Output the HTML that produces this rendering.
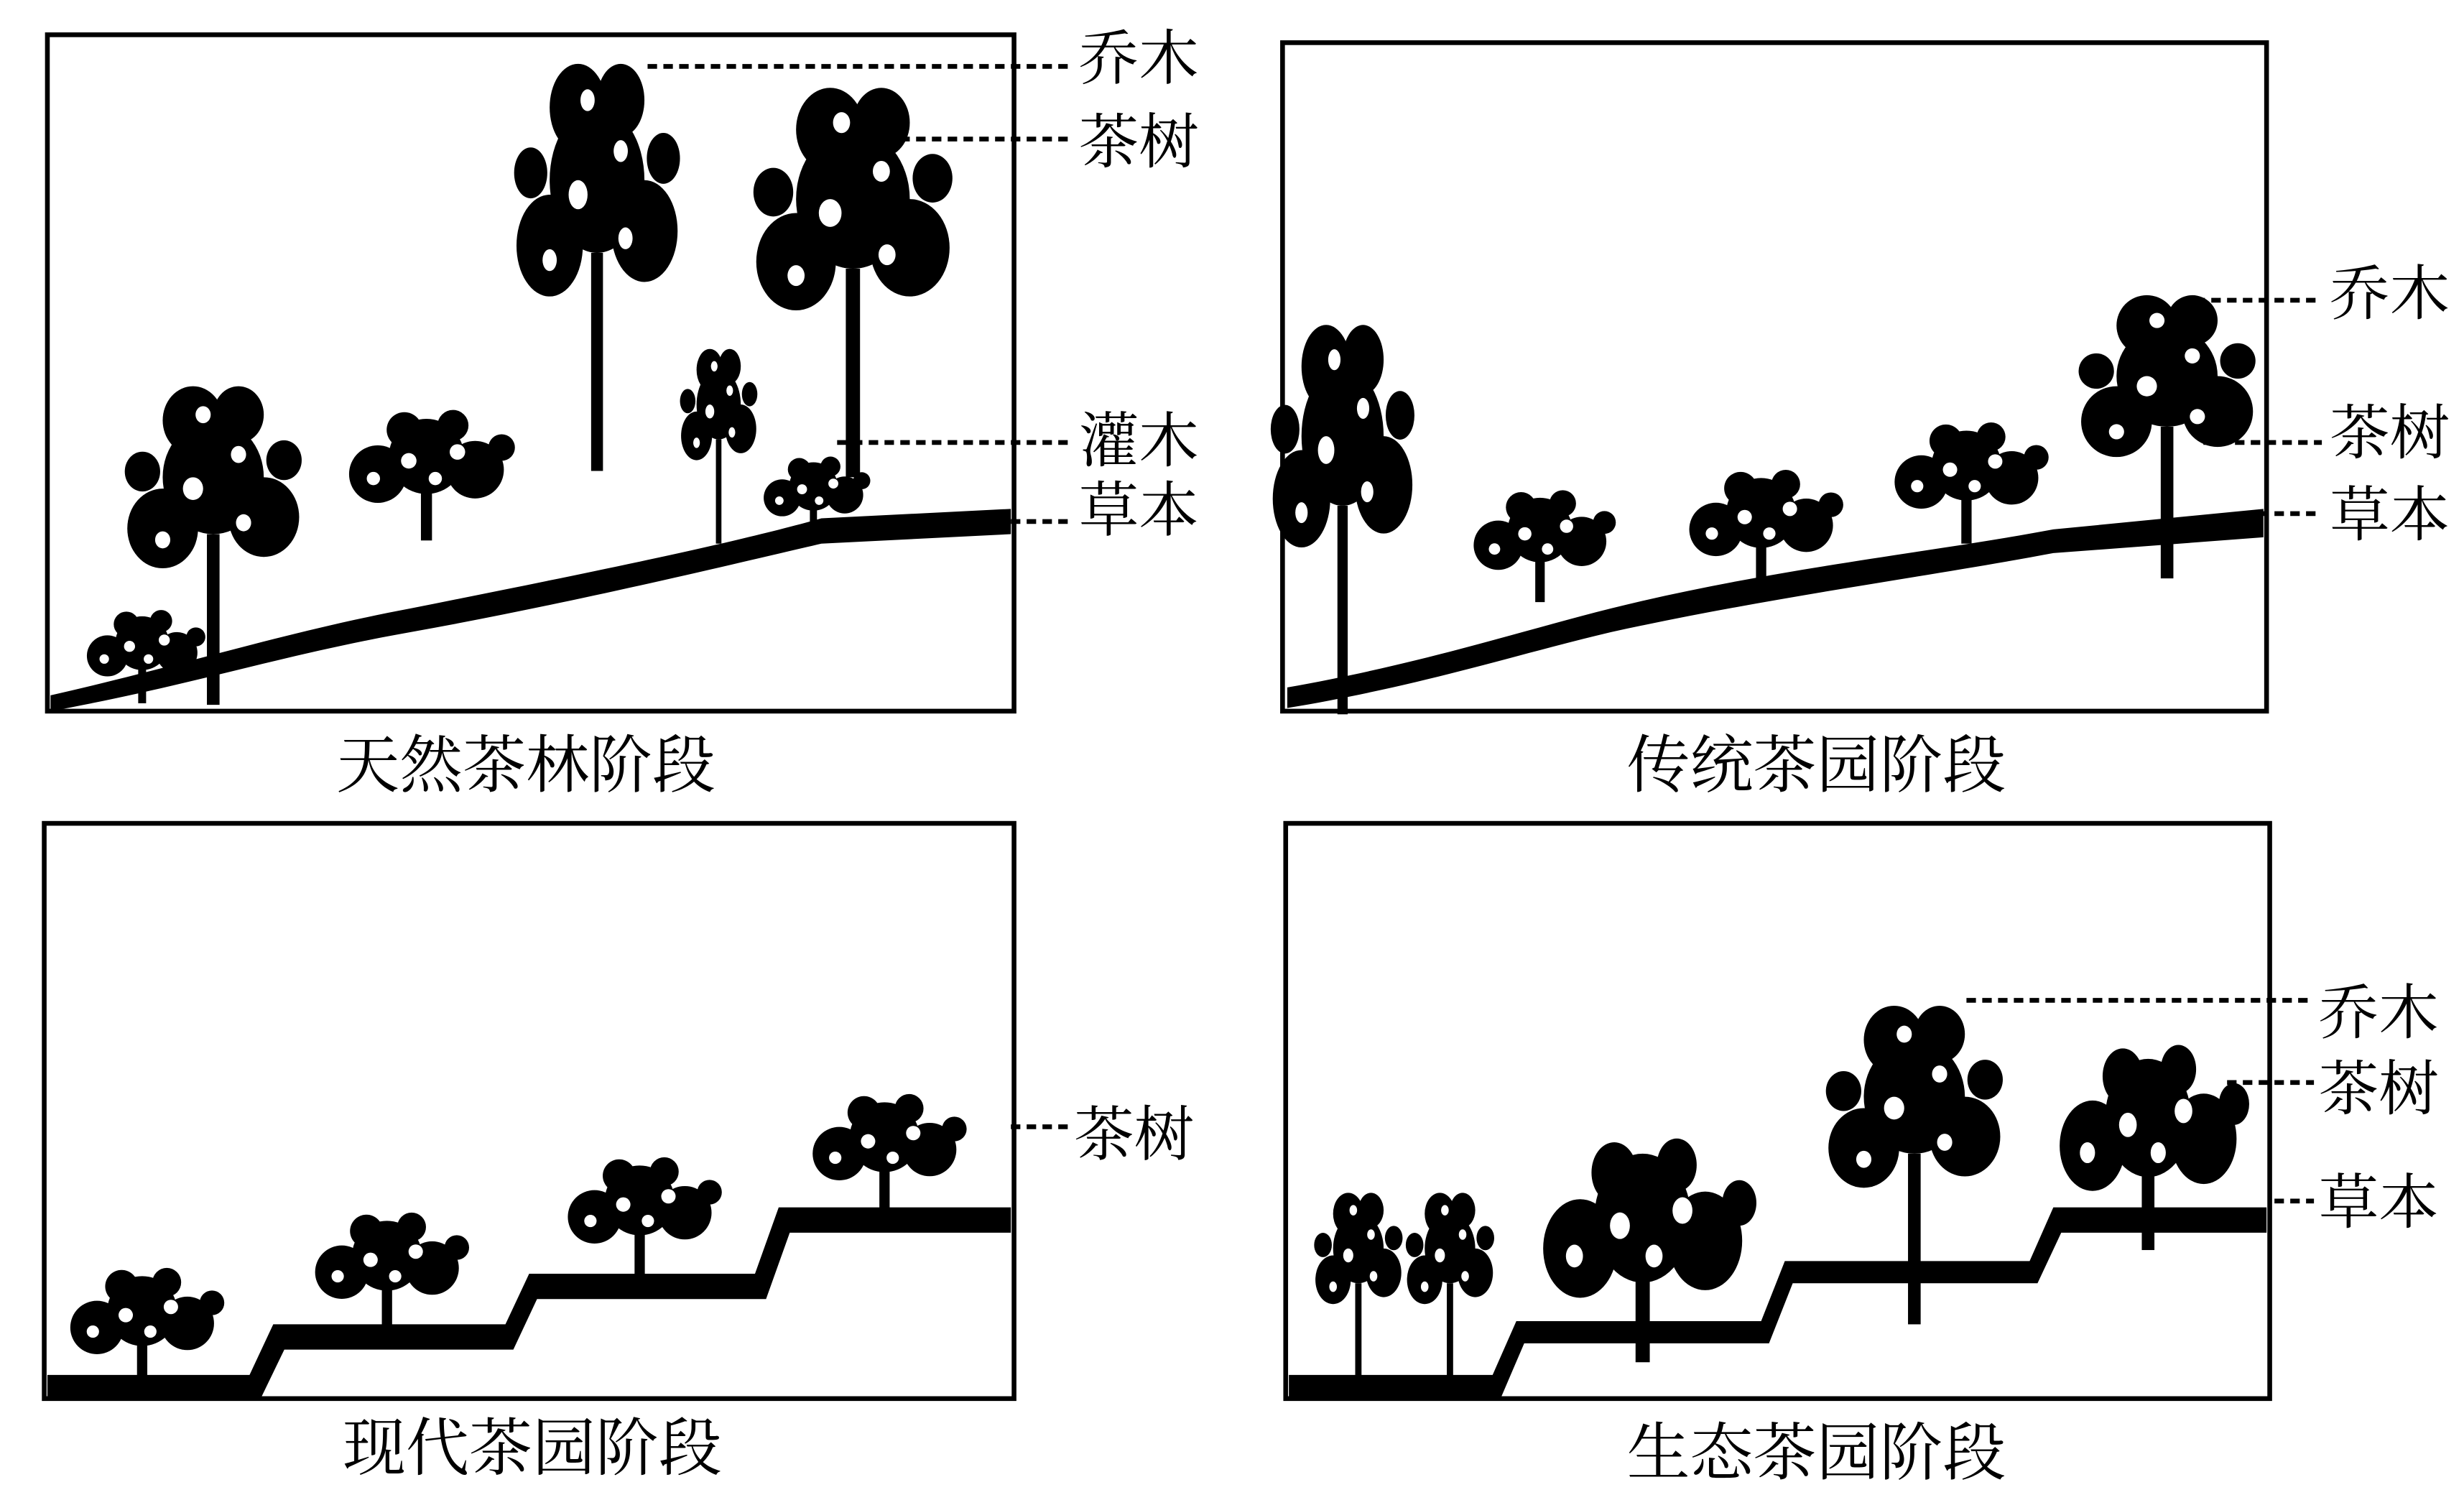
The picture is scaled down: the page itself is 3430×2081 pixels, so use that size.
<!DOCTYPE html>
<html><head><meta charset="utf-8"><style>
html,body{margin:0;padding:0;background:#fff;}
svg{display:block;}
text{font-family:"Liberation Serif","Noto Serif CJK SC","Noto Sans CJK SC",serif;fill:#000;}
</style></head><body>
<svg width="3430" height="2081" viewBox="0 0 1560 946" preserveAspectRatio="none" xmlns="http://www.w3.org/2000/svg">
<defs>
<g id="tree">
<rect x="-2.5" y="0" width="5" height="60" fill="#000"/>
<circle cx="0" cy="-20" r="20" fill="#000"/>
<circle cx="-20" cy="-2" r="14" fill="#000"/>
<circle cx="20" cy="-6" r="14" fill="#000"/>
<circle cx="-8" cy="-40" r="12" fill="#000"/>
<circle cx="10" cy="-42" r="10" fill="#000"/>
<circle cx="-28" cy="-22" r="7" fill="#000"/>
<circle cx="28" cy="-26" r="7" fill="#000"/>
<circle cx="-8" cy="-16" r="4" fill="#fff"/>
<circle cx="10" cy="-28" r="3" fill="#fff"/>
<circle cx="12" cy="-4" r="3" fill="#fff"/>
<circle cx="-20" cy="2" r="3" fill="#fff"/>
<circle cx="-4" cy="-42" r="3" fill="#fff"/>
</g>
<g id="bush">
<rect x="-2.5" y="0" width="5" height="30" fill="#000"/>
<circle cx="0" cy="-8" r="17" fill="#000"/>
<circle cx="-22" cy="0" r="13" fill="#000"/>
<circle cx="22" cy="-2" r="13" fill="#000"/>
<circle cx="-10" cy="-20" r="8" fill="#000"/>
<circle cx="12" cy="-22" r="7" fill="#000"/>
<circle cx="34" cy="-12" r="6" fill="#000"/>
<circle cx="-8" cy="-6" r="3.5" fill="#fff"/>
<circle cx="14" cy="-10" r="3.5" fill="#fff"/>
<circle cx="-24" cy="2" r="3" fill="#fff"/>
<circle cx="4" cy="2" r="3" fill="#fff"/>
</g>
</defs>
<g fill="none" stroke="#000" stroke-width="3">
<rect x="30" y="22" width="612" height="428"/>
<rect x="812" y="27" width="623" height="423"/>
<rect x="28" y="521" width="614" height="364"/>
<rect x="814" y="521" width="623" height="364"/>
</g>
<path d="M32 440 C120 420,180 400,260 385 C360 365,460 345,520 328 L640 322 L640 338 L520 344 C460 358,360 382,260 400 C180 414,120 434,32 450Z" fill="#000"/>
<use href="#tree" transform="translate(135,338) scale(1.6,1.8)"/>
<use href="#tree" transform="translate(378,160) scale(1.5,2.3)"/>
<use href="#tree" transform="translate(540,170) scale(1.8,2.2)"/>
<use href="#bush" transform="translate(270,300) scale(1.4)"/>
<use href="#tree" transform="translate(455,278) scale(0.7,1.1)"/>
<use href="#bush" transform="translate(90,415) scale(1.0)"/>
<use href="#bush" transform="translate(515,315) scale(0.9)"/>
<path d="M815 435 C900 420,960 400,1020 385 C1120 360,1220 350,1300 335 L1433 322 L1433 340 L1300 350 C1220 365,1120 378,1020 400 C960 414,900 434,815 448Z" fill="#000"/>
<use href="#tree" transform="translate(850,320) scale(1.3,2.2)"/>
<use href="#bush" transform="translate(975,345) scale(1.2)"/>
<use href="#bush" transform="translate(1115,335) scale(1.3)"/>
<use href="#bush" transform="translate(1245,305) scale(1.3)"/>
<use href="#tree" transform="translate(1372,270) scale(1.6)"/>
<path d="M30 870 L158 870 L173 838 L320 838 L335 806 L478 806 L493 764 L640 764 L640 780 L500 780 L485 822 L340 822 L325 854 L180 854 L165 885 L30 885Z" fill="#000"/>
<use href="#bush" transform="translate(90,840) scale(1.3)"/>
<use href="#bush" transform="translate(245,805) scale(1.3)"/>
<use href="#bush" transform="translate(405,770) scale(1.3)"/>
<use href="#bush" transform="translate(560,730) scale(1.3)"/>
<path d="M816 870 L945 870 L960 836 L1115 836 L1130 798 L1285 798 L1300 764 L1435 764 L1435 780 L1305 780 L1290 812 L1135 812 L1120 850 L965 850 L950 885 L816 885Z" fill="#000"/>
<use href="#tree" transform="translate(860,812) scale(0.8,1.1)"/>
<use href="#tree" transform="translate(918,812) scale(0.8,1.1)"/>
<use href="#bush" transform="translate(1040,790) scale(1.8,2.4)"/>
<use href="#tree" transform="translate(1212,730) scale(1.6,1.8)"/>
<use href="#bush" transform="translate(1360,725) scale(1.6,2.2)"/>
<g stroke="#000" stroke-width="3" stroke-dasharray="6,4">
<line x1="410" y1="42" x2="680" y2="42"/>
<line x1="560" y1="88" x2="678" y2="88"/>
<line x1="530" y1="280" x2="678" y2="280"/>
<line x1="640" y1="330" x2="678" y2="330"/>
<line x1="1390" y1="190" x2="1470" y2="190"/>
<line x1="1395" y1="280" x2="1470" y2="280"/>
<line x1="1430" y1="325" x2="1470" y2="325"/>
<line x1="640" y1="713" x2="678" y2="713"/>
<line x1="1245" y1="633" x2="1465" y2="633"/>
<line x1="1410" y1="685" x2="1465" y2="685"/>
<line x1="1440" y1="760" x2="1465" y2="760"/>
</g>
<g font-size="38">
<text x="683" y="50">乔木</text>
<text x="683" y="103">茶树</text>
<text x="683" y="292">灌木</text>
<text x="683" y="336">草本</text>
<text x="1475" y="199">乔木</text>
<text x="1475" y="287">茶树</text>
<text x="1475" y="339">草本</text>
<text x="680" y="731">茶树</text>
<text x="1468" y="654">乔木</text>
<text x="1468" y="702">茶树</text>
<text x="1468" y="774">草本</text>
</g>
<g font-size="40" text-anchor="middle">
<text x="333" y="498">天然茶林阶段</text>
<text x="1150" y="498">传统茶园阶段</text>
<text x="337" y="930">现代茶园阶段</text>
<text x="1150" y="933">生态茶园阶段</text>
</g>
</svg>
</body></html>
